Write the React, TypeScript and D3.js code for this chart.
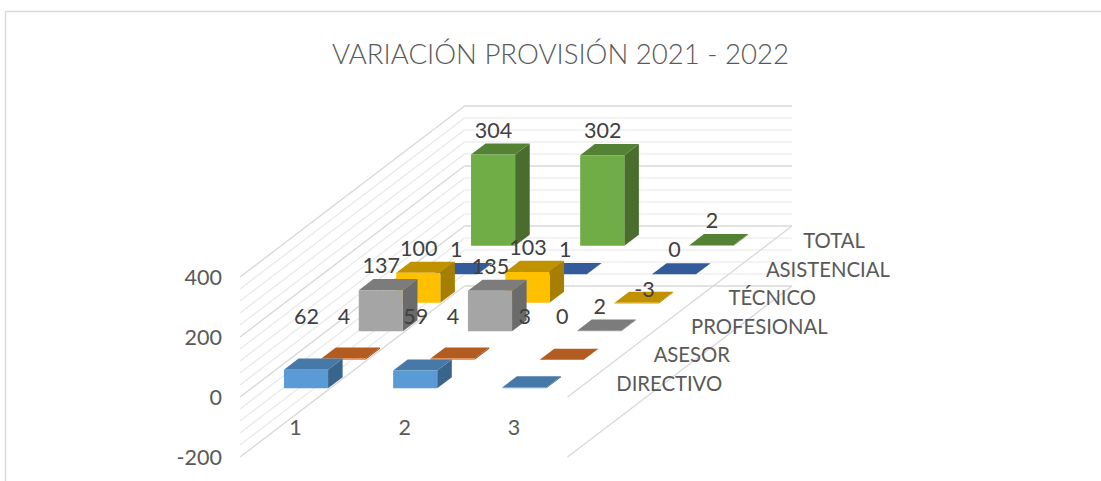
import React from "react";
import * as d3 from "d3";

const titleText = "VARIACIÓN PROVISIÓN 2021 - 2022";
const categories = ["1", "2", "3"];
const seriesNames = ["DIRECTIVO", "ASESOR", "PROFESIONAL", "TÉCNICO", "ASISTENCIAL", "TOTAL"];
const directivo = [62, 59, 3];
const asesor = [4, 4, 0];
const profesional = [137, 135, 2];
const tecnico = [100, 103, -3];
const asistencial = [1, 1, 0];
const total = [304, 302, 2];
const seriesValues = [directivo, asesor, profesional, tecnico, asistencial, total];
const valueTicks = [-200, 0, 200, 400];
const frontColors = ["#5B9BD5", "#ED7D31", "#A5A5A5", "#FFC000", "#4472C4", "#70AD47"];
const topColors = ["#4678A8", "#B35C22", "#7C7C7C", "#C09200", "#335A9A", "#548235"];
const sideColors = ["#39658C", "#9A4F1E", "#6B6B6B", "#A67F00", "#2C4E85", "#4A6D2E"];

const FONT = "Lato, Carlito, sans-serif";

const catX = d3.scaleLinear().domain([0, 3]).range([240, 567.5]);
const depthX = d3.scaleLinear().domain([0, 6]).range([0, 224.5]);
const depthY = d3.scaleLinear().domain([0, 6]).range([0, 171]);
const valY = d3.scaleLinear().domain([-200, 400]).range([457, 277]);
const px = (u: number, w: number) => catX(u) + depthX(w);
const py = (v: number, w: number) => valY(v) - depthY(w);
const poly = d3.line<[number, number]>().x((d) => d[0]).y((d) => d[1]);
const path = (pts: [number, number][]) => poly(pts) + "Z";

const U_GAP = 0.298;
const W_GAP = 0.305;
const gridLevels = d3.range(-200, 401, 40);

function Bar({ s, c, v }: { s: number; c: number; v: number }) {
  const u0 = c + U_GAP, u1 = c + 1 - U_GAP, w0 = s + W_GAP, w1 = s + 1 - W_GAP;
  const hi = Math.max(v, 0), lo = Math.min(v, 0);
  const front = path([[px(u0, w0), py(hi, w0)], [px(u1, w0), py(hi, w0)], [px(u1, w0), py(lo, w0)], [px(u0, w0), py(lo, w0)]]);
  const top = path([[px(u0, w0), py(hi, w0)], [px(u1, w0), py(hi, w0)], [px(u1, w1), py(hi, w1)], [px(u0, w1), py(hi, w1)]]);
  const side = path([[px(u1, w0), py(hi, w0)], [px(u1, w1), py(hi, w1)], [px(u1, w1), py(lo, w1)], [px(u1, w0), py(lo, w0)]]);
  return (
    <g>
      <path d={side} fill={sideColors[s]} />
      <path d={top} fill={topColors[s]} />
      <path d={front} fill={frontColors[s]} />
    </g>
  );
}

export default function App() {
  const wTop = 6;
  const labels: { x: number; y: number; t: number }[] = [];
  seriesValues.forEach((vals, s) =>
    vals.forEach((v, c) => {
      const w0 = s + W_GAP;
      const xc = px(c + 0.5, w0);
      const yt = py(Math.max(v, 0), w0);
      if (v < 0) labels.push({ x: xc + 8, y: yt - 14, t: v });
      else labels.push({ x: xc + 0.5, y: Math.min(yt - 25, 316), t: v });
    })
  );
  return (
    <svg width={1101} height={481} viewBox="0 0 1101 481" style={{ position: "absolute", left: 0, top: 0, background: "#fff" }} fontFamily={FONT}>
      <path d="M5.5 481V11.5H1101" fill="none" stroke="#d9d9d9" strokeWidth={1.5} />
      <text x={560.5} y={53} textAnchor="middle" dominantBaseline="central" fontSize={27.6} fontWeight={300} fill="#595959">{titleText}</text>

      {gridLevels.map((lv) => {
        const major = lv % 200 === 0;
        return (
          <g key={lv} stroke={major ? "#d9d9d9" : "#e8e8e8"} strokeWidth={major ? 1.4 : 1.2} fill="none">
            <path d={poly([[px(0, 0), py(lv, 0)], [px(0, wTop), py(lv, wTop)]]) as string} />
            <path d={poly([[px(0, wTop), py(lv, wTop)], [px(3, wTop), py(lv, wTop)]]) as string} />
          </g>
        );
      })}
      {[0, -200].map((lv) => (
        <path key={lv} d={poly([[px(3, 0), py(lv, 0)], [px(3, wTop), py(lv, wTop)]]) as string} stroke="#d9d9d9" strokeWidth={1.3} fill="none" />
      ))}

      {d3.range(5, -1, -1).map((s) => seriesValues[s].map((v, c) => <Bar key={s + "-" + c} s={s} c={c} v={v} />))}

      {valueTicks.map((t) => (
        <text key={t} x={222} y={valY(t)} textAnchor="end" dominantBaseline="central" fontSize={21.5} fill="#595959">{t}</text>
      ))}
      {categories.map((c, i) => (
        <text key={c} x={px(i + 0.5, 0) + 1} y={valY(-100)} textAnchor="middle" dominantBaseline="central" fontSize={21.5} fill="#595959">{c}</text>
      ))}
      {seriesNames.map((n, s) => (
        <text key={n} x={px(3, s + 0.5) + 30} y={py(0, s + 0.5)} textAnchor="start" dominantBaseline="central" fontSize={20.3} fill="#595959">{n}</text>
      ))}
      {labels.map((l, i) => (
        <text key={i} x={l.x} y={l.y} textAnchor="middle" dominantBaseline="central" fontSize={21.5} fill="#404040">{l.t}</text>
      ))}
    </svg>
  );
}
